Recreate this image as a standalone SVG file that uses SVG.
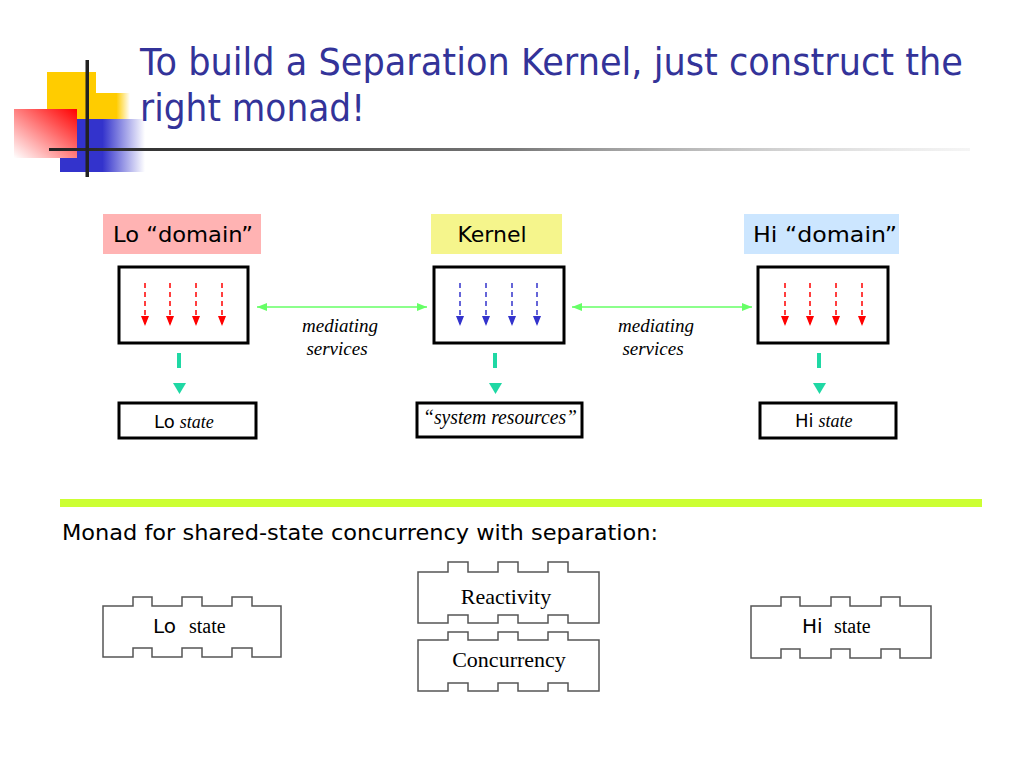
<svg xmlns="http://www.w3.org/2000/svg" width="1024" height="768" viewBox="0 0 1024 768">
<defs>
<style>
.title{font-family:"DejaVu Sans","Liberation Sans",sans-serif;font-size:37px;fill:#333399}
.sans{font-family:"DejaVu Sans","Liberation Sans",sans-serif;fill:#000}
.serif{font-family:"Liberation Serif","Times New Roman",serif;fill:#000}
.it{font-style:italic}
.box{fill:#fff;stroke:#000;stroke-width:3}
.piece{fill:#fff;stroke:#555;stroke-width:1.5}
.red{stroke:#ff0000;stroke-width:1.5;stroke-dasharray:5,4;fill:none}
.blue{stroke:#3333cc;stroke-width:1.5;stroke-dasharray:5,4;fill:none}
.green{stroke:#66ff66;stroke-width:1.5;fill:none}
.teal{fill:#1fd8a4}
</style>
<linearGradient id="yel" x1="0" y1="0" x2="1" y2="0">
<stop offset="0" stop-color="#ffcc00"/><stop offset="0.6" stop-color="#ffcc00"/><stop offset="1" stop-color="#ffcc00" stop-opacity="0"/>
</linearGradient>
<linearGradient id="blu" x1="0" y1="0" x2="1" y2="0">
<stop offset="0" stop-color="#3333cc"/><stop offset="0.5" stop-color="#3333cc"/><stop offset="1" stop-color="#3333cc" stop-opacity="0"/>
</linearGradient>
<linearGradient id="rd" x1="1" y1="0" x2="0" y2="1">
<stop offset="0" stop-color="#ff0000"/><stop offset="1" stop-color="#ffffff"/>
</linearGradient>
<linearGradient id="hl" x1="0" y1="0" x2="1" y2="0">
<stop offset="0" stop-color="#222"/><stop offset="0.5" stop-color="#777"/><stop offset="1" stop-color="#ddd" stop-opacity="0.3"/>
</linearGradient>
<marker id="rh" viewBox="0 0 10 8" refX="10" refY="4" markerWidth="10" markerHeight="8" markerUnits="userSpaceOnUse" orient="auto">
<path d="M0,0 L10,4 L0,8 Z" fill="#ff0000"/>
</marker>
<marker id="bh" viewBox="0 0 10 8" refX="10" refY="4" markerWidth="10" markerHeight="8" markerUnits="userSpaceOnUse" orient="auto">
<path d="M0,0 L10,4 L0,8 Z" fill="#3333cc"/>
</marker>
<marker id="gh" viewBox="0 0 10 8" refX="10" refY="4" markerWidth="10" markerHeight="8" markerUnits="userSpaceOnUse" orient="auto-start-reverse">
<path d="M0,0 L10,4 L0,8 Z" fill="#66ff66"/>
</marker>
</defs>
<rect width="1024" height="768" fill="#fff"/>

<g id="decoration">
<rect x="47" y="72" width="49" height="47" fill="#ffcc00"/>
<rect x="96" y="93" width="34" height="26" fill="url(#yel)"/>
<rect x="60" y="119" width="85" height="53" fill="url(#blu)"/>
<rect x="14" y="109" width="63" height="49" fill="url(#rd)"/>
<rect x="49" y="148" width="921" height="3" fill="url(#hl)"/>
<rect x="85.5" y="60" width="3.5" height="117" fill="#222"/>
</g>

<g id="title">
<text class="title" x="140" y="75" textLength="823" lengthAdjust="spacingAndGlyphs">To build a Separation Kernel, just construct the</text>
<text class="title" x="140" y="121" textLength="225" lengthAdjust="spacingAndGlyphs">right monad!</text>
</g>

<g id="lo-label">
<rect x="103" y="214" width="158" height="40" fill="#ffb3b3"/>
<text class="sans" x="113" y="242" font-size="22" textLength="140" lengthAdjust="spacingAndGlyphs">Lo “domain”</text>
</g>
<g id="kernel-label">
<rect x="431" y="214" width="131" height="40" fill="#f5f58c"/>
<text class="sans" x="492" y="242" font-size="22" text-anchor="middle">Kernel</text>
</g>
<g id="hi-label">
<rect x="744" y="214" width="155" height="40" fill="#cce6ff"/>
<text class="sans" x="753" y="242" font-size="22" textLength="144" lengthAdjust="spacingAndGlyphs">Hi “domain”</text>
</g>

<g id="lo-domain">
<rect class="box" x="119" y="267" width="129" height="76"/>
<line class="red" x1="145" y1="283" x2="145" y2="326" marker-end="url(#rh)"/>
<line class="red" x1="170" y1="283" x2="170" y2="326" marker-end="url(#rh)"/>
<line class="red" x1="196" y1="283" x2="196" y2="326" marker-end="url(#rh)"/>
<line class="red" x1="222" y1="283" x2="222" y2="326" marker-end="url(#rh)"/>
</g>
<g id="kernel">
<rect class="box" x="434" y="267" width="130" height="76"/>
<line class="blue" x1="460" y1="283" x2="460" y2="326" marker-end="url(#bh)"/>
<line class="blue" x1="486" y1="283" x2="486" y2="326" marker-end="url(#bh)"/>
<line class="blue" x1="512" y1="283" x2="512" y2="326" marker-end="url(#bh)"/>
<line class="blue" x1="537" y1="283" x2="537" y2="326" marker-end="url(#bh)"/>
</g>
<g id="hi-domain">
<rect class="box" x="758" y="267" width="130" height="76"/>
<line class="red" x1="785" y1="283" x2="785" y2="326" marker-end="url(#rh)"/>
<line class="red" x1="810" y1="283" x2="810" y2="326" marker-end="url(#rh)"/>
<line class="red" x1="836" y1="283" x2="836" y2="326" marker-end="url(#rh)"/>
<line class="red" x1="862" y1="283" x2="862" y2="326" marker-end="url(#rh)"/>
</g>

<g id="connectors">
<line class="green" x1="257" y1="307" x2="427" y2="307" marker-start="url(#gh)" marker-end="url(#gh)"/>
<line class="green" x1="572" y1="307" x2="752" y2="307" marker-start="url(#gh)" marker-end="url(#gh)"/>
<rect class="teal" x="177" y="353" width="4" height="15"/>
<path class="teal" d="M173,383 L186,383 L179.5,394 Z"/>
<rect class="teal" x="493" y="353" width="4" height="15"/>
<path class="teal" d="M489,383 L502,383 L495.5,394 Z"/>
<rect class="teal" x="817" y="353" width="4" height="15"/>
<path class="teal" d="M813,383 L826,383 L819.5,394 Z"/>
</g>

<g id="mediating-left">
<text class="serif it" x="340" y="332" font-size="19" text-anchor="middle">mediating</text>
<text class="serif it" x="337" y="355" font-size="19" text-anchor="middle">services</text>
</g>
<g id="mediating-right">
<text class="serif it" x="656" y="332" font-size="19" text-anchor="middle">mediating</text>
<text class="serif it" x="653" y="355" font-size="19" text-anchor="middle">services</text>
</g>

<g id="lo-state">
<rect class="box" x="119" y="403" width="137" height="35"/>
<text x="154" y="428"><tspan class="sans" font-size="18">Lo</tspan><tspan class="serif it" font-size="18" dx="5">state</tspan></text>
</g>
<g id="system-resources">
<rect class="box" x="417" y="403" width="165" height="34"/>
<text class="serif it" x="423" y="424" font-size="20" textLength="154" lengthAdjust="spacingAndGlyphs">“system resources”</text>
</g>
<g id="hi-state">
<rect class="box" x="760" y="403" width="136" height="35"/>
<text x="795" y="427"><tspan class="sans" font-size="18">Hi</tspan><tspan class="serif it" font-size="18" dx="5">state</tspan></text>
</g>

<rect x="60" y="499" width="922" height="8" fill="#ccff33"/>

<text class="sans" x="62" y="540" font-size="22" textLength="596" lengthAdjust="spacingAndGlyphs">Monad for shared-state concurrency with separation:</text>

<g id="lo-piece">
<path class="piece" d="M103,606 H133 V597 H152 V606 H182 V597 H202 V606 H232 V597 H252 V606 H281 V657 H252 V648 H232 V657 H202 V648 H182 V657 H152 V648 H133 V657 H103 Z"/>
<text class="sans" x="153" y="633" font-size="20">Lo</text>
<text class="serif" x="189" y="633" font-size="20">state</text>
</g>
<g id="reactivity-piece">
<path class="piece" d="M418,572 H448 V562 H468 V572 H498 V562 H518 V572 H548 V562 H568 V572 H599 V623 H568 V615 H548 V623 H518 V615 H498 V623 H468 V615 H448 V623 H418 Z"/>
<text class="serif" x="506" y="604" font-size="22" text-anchor="middle">Reactivity</text>
</g>
<g id="concurrency-piece">
<path class="piece" d="M418,640 H448 V632 H468 V640 H498 V632 H518 V640 H548 V632 H568 V640 H599 V691 H568 V683 H548 V691 H518 V683 H498 V691 H468 V683 H448 V691 H418 Z"/>
<text class="serif" x="509" y="667" font-size="22" text-anchor="middle">Concurrency</text>
</g>
<g id="hi-piece">
<path class="piece" d="M751,606 H781 V597 H800 V606 H831 V597 H850 V606 H881 V597 H900 V606 H931 V658 H900 V649 H881 V658 H850 V649 H831 V658 H800 V649 H781 V658 H751 Z"/>
<text class="sans" x="802" y="633" font-size="20">Hi</text>
<text class="serif" x="834" y="633" font-size="20">state</text>
</g>
</svg>
